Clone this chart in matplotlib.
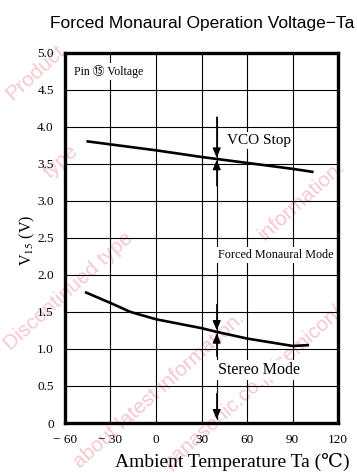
import numpy as np
import matplotlib.pyplot as plt

plt.rcParams['mathtext.fontset'] = 'stix'

# Pin 15 threshold voltages vs ambient temperature
ta_vco = [-45, -30, 0, 30, 60, 90, 103]
v_vco = [3.80, 3.76, 3.68, 3.59, 3.51, 3.43, 3.39]

ta_stereo = [-46, -30, -17, 0, 30, 40, 60, 90, 100]
v_stereo = [1.76, 1.62, 1.50, 1.40, 1.28, 1.23, 1.14, 1.04, 1.05]

x_ticks = [-60, -30, 0, 30, 60, 90, 120]
x_labels = ['\u2212 60', '\u2212 30', '0', '30', '60', '90', '120']
y_ticks = [0, 0.5, 1.0, 1.5, 2.0, 2.5, 3.0, 3.5, 4.0, 4.5, 5.0]
y_labels = ['0', '0.5', '1.0', '1.5', '2.0', '2.5', '3.0', '3.5', '4.0', '4.5', '5.0']

serif = ['Liberation Serif', 'DejaVu Serif', 'Noto Sans CJK JP']

W, H = 357, 473
fig = plt.figure(figsize=(W / 100, H / 100), dpi=100)
ax = fig.add_axes([0.182, 0.1057, 0.765, 0.7833])
ax.patch.set_alpha(0)

# faint diagonal watermark behind the plot, positions in pixels from the top-left
wm = '#f6c8d0'
wm_lines = [
    (2, 100, 'Product'),
    (40, 178, 'type'),
    (0, 350, 'Discontinued type'),
    (70, 468, 'about latest information.'),
    (160, 468, 'panasonic.co.jp/semicon/'),
    (255, 240, 'information.'),
]
for px, py, wt in wm_lines:
    fig.text(px / W, 1 - py / H, wt, rotation=42, color=wm, fontsize=15,
             family=['Liberation Sans'], zorder=-1)

ax.plot(ta_vco, v_vco, color='black', lw=1.9, zorder=4)
ax.plot(ta_stereo, v_stereo, color='black', lw=1.9, zorder=4)

# boundary arrows at Ta = 40
xa = 40
ap = dict(arrowstyle='-|>,head_length=0.6,head_width=0.25', color='black',
          lw=0.8, shrinkA=0, shrinkB=0, mutation_scale=10)
ax.plot([xa, xa], [4.13, 0.05], color='black', lw=0.8, zorder=3)
ax.annotate('', xy=(xa, 3.58), xytext=(xa, 4.13), arrowprops=ap)
ax.annotate('', xy=(xa, 3.55), xytext=(xa, 3.2), arrowprops=ap)
ax.annotate('', xy=(xa, 1.25), xytext=(xa, 1.6), arrowprops=ap)
ax.annotate('', xy=(xa, 1.21), xytext=(xa, 0.9), arrowprops=ap)
ax.annotate('', xy=(xa, 0.05), xytext=(xa, 0.4), arrowprops=ap)

box = dict(facecolor='white', edgecolor='none', pad=1.5)
ax.text(-54, 4.74, 'Pin \u246e Voltage', family=serif, fontsize=8.5,
        va='center', ha='left', bbox=box, zorder=5)
ax.text(68, 3.81, 'VCO Stop', family=serif, fontsize=11,
        va='center', ha='center', bbox=box, zorder=5)
ax.text(79, 2.27, 'Forced Monaural Mode', family=serif, fontsize=8.7,
        va='center', ha='center', bbox=box, zorder=5)
ax.text(68, 0.72, 'Stereo Mode', family=serif, fontsize=11.5,
        va='center', ha='center', bbox=box, zorder=5)

ax.set_xlim(-60, 120)
ax.set_ylim(0, 5)
ax.set_xticks(x_ticks)
ax.set_xticklabels(x_labels, family=serif, fontsize=9.5)
ax.set_yticks(y_ticks)
ax.set_yticklabels(y_labels, family=serif, fontsize=9.5)
ax.tick_params(length=0, pad=8)
ax.grid(True, color='black', lw=0.8)
ax.set_axisbelow(True)
for s in ax.spines.values():
    s.set_linewidth(2.4)

fig.text(232 / W, 1 - 467 / H, 'Ambient Temperature Ta (\u2103)', family=serif,
         fontsize=14, ha='center', va='baseline')
fig.text(27 / W, 1 - 240 / H, 'V$_{15}$ (V)', family=serif, fontsize=11.5,
         rotation=90, ha='center', va='center')

fig.text(0.14, 0.94, 'Forced Monaural Operation Voltage\u2212Ta', family=['Liberation Sans'],
         fontsize=12.5, ha='left', va='baseline')

fig.savefig('out.png', dpi=100)
